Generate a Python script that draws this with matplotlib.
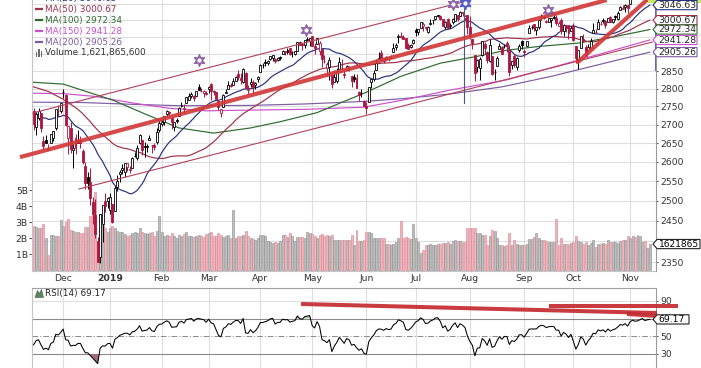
import numpy as np
import pandas as pd
import matplotlib
matplotlib.use("Agg")
import matplotlib.pyplot as plt
from matplotlib.patches import Polygon, Rectangle
from matplotlib.lines import Line2D
from matplotlib.transforms import blended_transform_factory
from matplotlib.ticker import NullLocator

plt.rcParams['font.family'] = ['DejaVu Sans']

# ---------------- data ----------------
holidays = ['2018-11-22', '2018-12-05', '2018-12-25', '2019-01-01', '2019-01-21',
            '2019-02-18', '2019-04-19', '2019-05-27', '2019-07-04', '2019-09-02']
dates = pd.bdate_range('2018-11-14', '2019-11-13')
dates = dates[~dates.isin(pd.to_datetime(holidays))]

# closes before the visible window (needed for MA20 / RSI warm-up)
warm_close = [2924.59, 2923.43, 2925.51, 2901.61, 2885.57, 2884.43, 2880.34, 2785.68, 2728.37,
              2767.13, 2750.79, 2809.92, 2809.21, 2768.78, 2767.78, 2755.88, 2740.69, 2656.10,
              2705.57, 2658.69, 2641.25, 2682.63, 2711.74, 2740.37, 2723.06, 2738.31, 2755.45,
              2813.89, 2806.83, 2781.01, 2726.22, 2722.18]

open_ = [
 2737.90, 2693.52, 2718.54, 2730.74, 2654.60, 2657.74, 2633.36, 2649.97, 2663.75, 2691.45, 2736.97, 2737.76,
 2790.50, 2782.43, 2663.51, 2691.26, 2630.86, 2664.44, 2658.23, 2658.70, 2629.68, 2590.75, 2559.90, 2547.05, 2496.77, 2465.38, 2400.56, 2363.12, 2442.50, 2498.77, 2498.94,
 2476.96, 2491.92, 2474.33, 2535.61, 2568.11, 2580.00, 2573.51, 2588.11, 2580.31, 2585.10, 2614.75, 2609.28, 2651.27, 2657.88, 2643.48, 2638.84, 2657.44, 2644.97, 2644.89, 2653.62, 2685.49,
 2702.32, 2706.49, 2728.34, 2735.05, 2717.53, 2692.36, 2712.40, 2722.61, 2750.30, 2743.50, 2760.24, 2769.28, 2779.05, 2780.67, 2780.24, 2804.35, 2792.36, 2787.50, 2788.11,
 2798.22, 2814.37, 2794.41, 2790.27, 2766.53, 2730.79, 2747.61, 2787.34, 2799.78, 2810.38, 2810.79, 2822.61, 2840.76, 2831.34, 2819.72, 2844.52, 2796.01, 2812.66, 2819.72, 2809.40, 2828.27,
 2848.63, 2868.24, 2876.09, 2873.99, 2884.16, 2888.46, 2886.58, 2881.37, 2891.92, 2900.86, 2908.32, 2912.26, 2916.04, 2904.81, 2898.78, 2909.99, 2934.00, 2928.99, 2925.81, 2940.58, 2937.14,
 2952.33, 2922.16, 2929.21, 2908.89, 2913.03, 2879.61, 2859.84, 2863.10, 2840.19, 2820.12, 2820.38, 2855.80, 2858.60, 2841.94, 2854.02, 2856.06, 2836.70, 2832.41, 2830.03, 2790.25, 2786.94, 2766.15,
 2751.53, 2762.64, 2818.09, 2828.51, 2852.87, 2885.83, 2903.27, 2882.73, 2886.24, 2886.82, 2889.75, 2906.71, 2920.55, 2949.60, 2952.71, 2951.42, 2945.78, 2926.07, 2919.66, 2932.94,
 2971.41, 2964.66, 2978.08, 2984.25, 2979.77, 2965.52, 2989.30, 2999.62, 3003.36, 3017.80, 3012.13, 3005.10, 2978.87, 3004.26, 2981.93, 2994.74, 2998.77, 3016.26, 3013.25, 3024.47, 3007.66, 3016.22,
 2980.32, 2943.90, 2898.07, 2861.18, 2858.65, 2896.21, 2930.51, 2907.07, 2880.72, 2894.15, 2846.20, 2864.74, 2913.48, 2919.01, 2922.04, 2930.94, 2911.07, 2866.70, 2893.14, 2861.28, 2910.37, 2937.09,
 2909.01, 2924.67, 2960.60, 2980.33, 2988.43, 2971.01, 2981.41, 3009.08, 3012.21, 2996.41, 2995.67, 3001.50, 3010.36, 3008.42, 2983.50, 3002.43, 2968.35, 2985.73, 2985.47, 2967.07,
 2983.69, 2924.78, 2885.38, 2918.56, 2944.23, 2920.40, 2911.10, 2918.55, 2963.07, 2965.81, 2973.61, 2989.68, 3000.77, 2996.84, 2996.48, 3010.73, 2994.01, 3014.78, 3003.32, 3032.12, 3035.39, 3039.74, 3046.90,
 3050.72, 3078.96, 3080.80, 3075.10, 3087.02, 3081.25, 3080.33, 3089.28, 3084.18]

high = [
 2746.80, 2735.38, 2746.75, 2733.16, 2669.44, 2670.73, 2647.55, 2674.35, 2682.53, 2744.00, 2753.75, 2760.88,
 2800.18, 2785.93, 2696.15, 2708.54, 2647.51, 2674.35, 2685.44, 2670.19, 2635.07, 2601.13, 2573.99, 2585.29, 2509.63, 2504.41, 2410.34, 2467.76, 2489.10, 2520.27, 2509.24,
 2519.49, 2493.14, 2538.07, 2566.16, 2579.82, 2595.32, 2597.82, 2596.27, 2589.32, 2613.08, 2625.76, 2645.06, 2675.47, 2657.88, 2653.19, 2647.20, 2672.38, 2644.97, 2650.93, 2690.44, 2708.95,
 2716.66, 2724.99, 2738.98, 2738.08, 2719.32, 2708.07, 2718.05, 2748.19, 2761.85, 2757.90, 2775.66, 2787.33, 2789.88, 2781.58, 2794.20, 2813.49, 2803.12, 2795.76, 2793.73,
 2808.02, 2816.88, 2796.44, 2790.27, 2767.25, 2744.13, 2784.00, 2798.32, 2821.24, 2815.00, 2830.73, 2835.41, 2852.42, 2843.54, 2860.31, 2846.16, 2809.79, 2829.87, 2825.56, 2819.71, 2836.03,
 2869.40, 2872.90, 2885.25, 2881.28, 2893.24, 2895.95, 2886.88, 2889.71, 2893.42, 2910.54, 2909.60, 2916.06, 2918.00, 2908.40, 2909.51, 2936.31, 2936.83, 2933.10, 2939.88, 2949.52, 2948.22,
 2954.13, 2931.68, 2947.85, 2937.32, 2913.03, 2897.96, 2875.97, 2891.31, 2840.19, 2852.54, 2858.68, 2892.15, 2885.48, 2853.86, 2868.88, 2865.47, 2836.70, 2841.36, 2840.51, 2792.03, 2799.00, 2768.98,
 2763.07, 2804.49, 2827.28, 2852.10, 2884.97, 2904.77, 2910.61, 2888.57, 2895.24, 2894.45, 2897.27, 2930.79, 2931.74, 2958.06, 2964.15, 2954.92, 2946.52, 2932.59, 2929.30, 2943.98,
 2977.93, 2973.21, 2995.84, 2994.03, 2980.76, 2981.90, 3002.98, 3002.33, 3013.92, 3017.80, 3015.02, 3005.26, 2998.28, 3006.02, 2990.71, 3005.90, 3019.59, 3016.31, 3027.98, 3025.61, 3017.19, 3017.40,
 3013.59, 2945.50, 2898.07, 2884.40, 2892.17, 2938.72, 2935.75, 2907.58, 2943.31, 2894.15, 2856.67, 2893.63, 2931.00, 2923.63, 2928.73, 2939.08, 2927.01, 2879.27, 2898.79, 2890.03, 2930.50, 2940.43,
 2914.39, 2938.84, 2985.86, 2985.03, 2989.43, 2979.39, 3000.93, 3020.74, 3017.33, 3002.19, 3006.21, 3007.83, 3021.99, 3016.37, 2999.15, 3007.98, 2989.82, 2987.28, 2987.31, 2983.85,
 2992.53, 2924.78, 2911.13, 2953.74, 2959.75, 2925.47, 2929.32, 2948.46, 2993.28, 2972.84, 3003.28, 2997.54, 3008.29, 3000.00, 3007.33, 3014.57, 3004.78, 3016.07, 3027.39, 3044.08, 3047.87, 3050.10, 3046.90,
 3066.95, 3085.20, 3083.95, 3078.34, 3097.77, 3093.09, 3088.33, 3102.61, 3098.06]

low = [
 2685.75, 2670.75, 2712.16, 2681.09, 2631.52, 2649.82, 2631.09, 2649.97, 2655.89, 2684.38, 2722.94, 2732.76,
 2773.38, 2697.18, 2621.53, 2623.14, 2583.23, 2621.30, 2650.26, 2637.27, 2593.84, 2530.54, 2528.71, 2488.96, 2441.18, 2408.55, 2351.10, 2346.58, 2397.94, 2472.89, 2482.82,
 2467.47, 2443.96, 2474.33, 2524.56, 2547.56, 2568.89, 2562.02, 2577.40, 2570.41, 2585.10, 2612.68, 2606.36, 2647.58, 2617.27, 2612.86, 2627.01, 2657.33, 2624.06, 2631.05, 2648.34, 2678.65,
 2696.88, 2698.75, 2724.03, 2724.15, 2687.26, 2681.83, 2703.79, 2722.61, 2748.63, 2731.23, 2760.24, 2767.29, 2774.06, 2764.55, 2779.11, 2794.99, 2789.47, 2775.13, 2782.51,
 2787.38, 2767.66, 2782.97, 2768.69, 2739.09, 2722.27, 2747.61, 2786.73, 2799.78, 2803.46, 2810.79, 2821.99, 2823.27, 2812.43, 2817.38, 2800.47, 2785.02, 2803.99, 2787.72, 2798.77, 2819.23,
 2848.63, 2858.75, 2865.17, 2867.14, 2882.99, 2880.78, 2873.33, 2879.13, 2881.99, 2898.37, 2896.48, 2900.71, 2895.45, 2891.90, 2896.35, 2908.53, 2926.05, 2912.84, 2917.56, 2939.35, 2924.11,
 2923.36, 2900.50, 2929.21, 2898.21, 2862.60, 2873.28, 2836.40, 2825.39, 2801.43, 2820.12, 2815.08, 2855.80, 2854.23, 2831.29, 2854.02, 2851.11, 2805.49, 2820.19, 2801.58, 2766.06, 2776.74, 2750.52,
 2728.81, 2762.64, 2800.92, 2822.45, 2852.87, 2885.51, 2878.53, 2874.68, 2881.99, 2879.62, 2887.30, 2905.44, 2911.43, 2931.50, 2946.87, 2944.05, 2916.01, 2912.99, 2918.57, 2929.05,
 2952.22, 2955.92, 2977.96, 2967.97, 2970.09, 2963.44, 2984.62, 2988.80, 3001.87, 3008.77, 3001.15, 2984.25, 2973.09, 2975.86, 2976.65, 2988.56, 2996.82, 2997.24, 3012.59, 3014.30, 3000.94, 2958.08,
 2945.23, 2914.11, 2822.12, 2847.42, 2825.71, 2894.47, 2900.15, 2873.14, 2877.05, 2839.64, 2825.51, 2864.74, 2913.48, 2899.60, 2917.91, 2904.51, 2834.97, 2856.00, 2860.59, 2853.05, 2905.67, 2913.32,
 2891.85, 2921.86, 2960.60, 2972.51, 2969.39, 2957.01, 2975.31, 3000.92, 3002.90, 2990.67, 2993.73, 2978.57, 3003.16, 2984.68, 2982.23, 2957.73, 2952.86, 2963.71, 2945.53, 2967.07,
 2938.70, 2874.93, 2855.96, 2918.56, 2935.68, 2892.66, 2907.41, 2917.12, 2963.07, 2962.94, 2973.61, 2985.20, 2991.79, 2976.31, 2995.35, 2995.04, 2991.21, 3000.42, 3001.94, 3032.12, 3034.81, 3025.96, 3023.19,
 3050.72, 3074.87, 3072.15, 3065.89, 3080.23, 3073.58, 3075.82, 3084.73, 3078.80]

close = [
 2701.58, 2730.20, 2736.27, 2690.73, 2641.89, 2649.93, 2632.56, 2673.45, 2682.17, 2743.79, 2737.80, 2760.17,
 2790.37, 2700.06, 2695.95, 2633.08, 2637.72, 2636.78, 2651.07, 2650.54, 2599.95, 2545.94, 2546.16, 2506.96, 2467.42, 2416.62, 2351.10, 2467.70, 2488.83, 2485.74, 2506.85,
 2510.03, 2447.89, 2531.94, 2549.69, 2574.41, 2584.96, 2596.64, 2596.26, 2582.61, 2610.30, 2616.10, 2635.96, 2670.71, 2632.90, 2638.70, 2642.33, 2664.76, 2643.85, 2640.00, 2681.05, 2704.10,
 2706.53, 2724.87, 2737.70, 2731.61, 2706.05, 2707.88, 2709.80, 2744.73, 2753.03, 2745.73, 2775.60, 2779.76, 2784.70, 2774.88, 2792.67, 2796.11, 2793.90, 2792.38, 2784.49,
 2803.69, 2792.81, 2789.65, 2771.45, 2748.93, 2743.07, 2783.30, 2791.52, 2810.92, 2808.48, 2822.48, 2832.94, 2832.57, 2824.23, 2854.88, 2800.71, 2798.36, 2818.46, 2805.37, 2815.44, 2834.40,
 2867.19, 2867.24, 2873.40, 2879.39, 2892.74, 2895.77, 2878.20, 2888.21, 2888.32, 2907.41, 2905.58, 2907.06, 2900.45, 2905.03, 2907.97, 2933.68, 2927.25, 2926.17, 2939.88, 2943.03, 2945.83,
 2923.73, 2917.52, 2945.64, 2932.47, 2884.05, 2879.42, 2870.72, 2881.40, 2811.87, 2834.41, 2850.96, 2876.32, 2859.53, 2840.23, 2864.36, 2856.27, 2822.24, 2826.06, 2802.39, 2783.02, 2788.86, 2752.06,
 2744.45, 2803.27, 2826.15, 2843.49, 2873.34, 2886.73, 2885.72, 2879.84, 2891.64, 2886.98, 2889.67, 2917.75, 2926.46, 2954.18, 2950.46, 2945.35, 2917.38, 2913.78, 2924.92, 2941.76,
 2964.33, 2973.01, 2995.82, 2990.41, 2975.95, 2979.63, 2993.07, 2999.91, 3013.77, 3014.30, 3004.04, 2984.42, 2995.11, 2976.61, 2985.03, 3005.47, 3019.56, 3003.67, 3025.86, 3020.97, 3013.18, 2980.38,
 2953.56, 2932.05, 2844.74, 2881.77, 2883.98, 2938.09, 2918.65, 2882.70, 2926.32, 2840.60, 2847.60, 2888.68, 2923.65, 2900.51, 2924.43, 2922.95, 2847.11, 2878.38, 2869.16, 2887.94, 2924.58, 2926.46,
 2906.27, 2937.78, 2976.00, 2978.71, 2978.43, 2979.39, 3000.93, 3009.57, 3007.39, 2997.96, 3005.70, 3006.73, 3006.79, 2992.07, 2991.78, 2966.60, 2984.87, 2977.62, 2961.79, 2976.74,
 2940.25, 2887.61, 2910.63, 2952.01, 2938.79, 2893.06, 2919.40, 2938.13, 2970.27, 2966.15, 2995.68, 2989.69, 2997.95, 2986.20, 3006.72, 2995.99, 3004.52, 3010.29, 3022.55, 3039.42, 3036.89, 3046.77, 3037.56,
 3066.91, 3078.27, 3074.62, 3076.78, 3085.18, 3093.08, 3087.01, 3091.84, 3094.04]

volume_b = [
 2.75, 2.7, 2.65, 2.6, 2.85, 2.0, 0.95, 2.2, 2.2, 2.1, 2.15, 3.1,
 2.75, 3.0, 3.2, 2.5, 2.45, 2.4, 2.35, 2.3, 2.3, 2.7, 2.7, 3.4, 3.6, 4.9, 1.7, 2.7, 2.8, 2.6, 2.4,
 2.6, 2.75, 2.65, 2.45, 2.4, 2.35, 2.25, 2.1, 2.2, 2.3, 2.35, 2.3, 2.6, 2.4, 2.3, 2.25, 2.3, 2.35, 2.1, 2.45, 3.4,
 2.4, 2.1, 2.2, 2.1, 2.3, 2.15, 2.0, 2.2, 2.1, 2.25, 2.4, 2.1, 2.15, 2.05, 2.1, 2.2, 2.1, 2.05, 2.25,
 2.3, 2.35, 2.1, 2.15, 2.3, 2.2, 2.05, 2.1, 2.2, 2.0, 3.75, 2.0, 2.1, 2.15, 2.2, 2.45, 2.15, 2.0, 1.95, 1.9, 2.0,
 2.2, 2.2, 2.15, 1.8, 1.75, 1.7, 1.75, 1.7, 1.8, 2.2, 2.2, 2.05, 2.3, 2.1, 1.8, 2.05, 2.05, 2.05, 2.0, 2.35, 2.3,
 2.25, 2.1, 2.0, 2.2, 2.25, 2.15, 2.2, 2.1, 2.2, 1.9, 1.9, 1.9, 1.9, 1.85, 1.9, 1.9, 2.2, 1.55, 2.5, 1.8, 1.8, 1.85,
 2.35, 2.35, 2.3, 2.0, 2.0, 2.0, 2.0, 2.0, 1.65, 1.6, 1.55, 1.6, 1.75, 2.0, 3.05, 2.0, 2.05, 2.0, 1.95, 2.9,
 2.0, 1.75, 1.05, 1.25, 1.55, 1.55, 1.6, 1.55, 1.55, 1.6, 1.65, 1.7, 1.7, 1.75, 1.65, 1.8, 1.85, 1.8, 1.8, 1.75, 1.75, 2.65,
 2.65, 2.6, 2.6, 2.3, 2.3, 2.2, 2.2, 1.55, 2.15, 2.5, 2.45, 2.0, 1.55, 1.55, 1.5, 1.55, 2.3, 1.55, 1.9, 1.6, 1.55, 1.55,
 1.55, 1.65, 1.95, 1.95, 2.05, 2.3, 2.0, 1.85, 1.85, 1.8, 1.75, 1.75, 1.75, 3.2, 1.55, 2.0, 1.65, 1.65, 1.65, 1.7,
 1.75, 2.1, 1.8, 1.75, 1.6, 1.75, 1.55, 1.7, 1.85, 1.45, 1.65, 1.65, 1.7, 1.65, 1.85, 1.75, 1.75, 1.75, 1.7, 1.8, 1.85, 1.85, 2.15,
 2.0, 2.1, 2.05, 2.2, 2.1, 1.75, 1.8, 1.35, 1.6218656]

# moving averages (trading-day index, value)
ma50_early_idx = [0, 6, 12]
ma50_early_val = [2805, 2792, 2770]
ma100_idx = [0, 12, 32, 46, 59, 73, 88, 100, 115, 135, 149, 165, 180, 192, 205, 221, 235, 250]
ma100_val = [2818, 2813, 2768, 2727, 2691, 2677, 2691, 2708, 2733, 2790, 2835, 2873, 2893, 2911, 2922, 2932, 2950, 2972.34]
ma150_idx = [0, 12, 25, 40, 55, 70, 88, 110, 134, 150, 169, 192, 210, 230, 250]
ma150_val = [2787, 2786, 2778, 2760, 2745, 2738, 2740, 2742, 2748, 2768, 2796, 2825, 2860, 2900, 2941.28]
ma200_idx = [0, 20, 40, 60, 88, 110, 134, 150, 169, 190, 210, 230, 250]
ma200_val = [2762, 2761, 2756, 2752, 2753, 2757, 2764, 2772, 2785, 2805, 2835, 2870, 2905.26]

ma_last = {'MA(20)': 3046.63, 'MA(50)': 3000.67, 'MA(100)': 2972.34, 'MA(150)': 2941.28, 'MA(200)': 2905.26}
rsi_last = 69.17
price_ticks = [2350, 2400, 2450, 2500, 2550, 2600, 2650, 2700, 2750, 2800, 2850, 2900, 2950, 3000, 3050]
price_labeled = [2350, 2450, 2500, 2550, 2600, 2650, 2700, 2750, 2800, 2850]
vol_ticks = [1, 2, 3, 4, 5]
rsi_ticks = [30, 50, 70, 90]
rsi_labeled = [30, 50, 90]

# hand-drawn annotations (trading-day index, price / rsi)
trend_thick = [(-5.52, 2612.8), (232.5, 3062.4)]
trend_steep = [(220.3, 2873.0), (252.5, 3088.0)]
chan_upper = [(-0.25, 2732.0), (177.0, 3062.0)]
chan_lower = [(18.4, 2530.0), (251.0, 2935.0)]
stars = [(67.2, 2882), (110.5, 2972), (170.0, 3050), (208.7, 3032)]
star_blue = (175.0, 3053)
rsi_lines = [[(108.5, 86.6), (252.9, 76.4)], [(209.1, 84.3), (261.4, 84.3)], [(240.7, 75.3), (252.9, 73.0)]]

# ---------------- derived ----------------
n = len(close)
idx = np.arange(n)
o = np.array(open_); c = np.array(close); hi = np.array(high); lo = np.array(low)
vol = np.array(volume_b)
allc = pd.Series(np.r_[warm_close, close])
nw = len(warm_close)
ma20 = allc.rolling(20).mean().values[nw:]
ma50_all = allc.rolling(50).mean().values[nw:]
d = allc.diff()
ag = d.clip(lower=0).ewm(alpha=1/14, adjust=False).mean()
al = (-d).clip(lower=0).ewm(alpha=1/14, adjust=False).mean()
rsi = (100 - 100 / (1 + ag / al)).values[nw:]

months = dates.month.values
mstart = [i for i in range(1, n) if months[i] != months[i - 1]]
mlabels = [str(dates[i].year) if dates[i].month == 1 else dates[i].strftime('%b') for i in mstart]

# ---------------- figure ----------------
W, H = 701, 368
fig = plt.figure(figsize=(W / 100, H / 100), dpi=100)
fig.patch.set_facecolor('white')

L, R = 32, 656
main_rect = [L / W, (H - 271) / H, (R - L) / W, 271 / H]
rsi_rect = [L / W, 0, (R - L) / W, 80 / H]

GRID = '#dedede'
RED = '#ad1640'
NAVY = '#27317c'
MAROON = '#9e3048'
GREEN = '#2d6a2d'
MAGENTA = '#cc50cc'
PURPLE = '#7e5ba2'
TXT = '#333333'
FS = 6.7

ax_vol = fig.add_axes(main_rect, zorder=1)
ax = fig.add_axes(main_rect, zorder=2, sharex=ax_vol)
ax.patch.set_visible(False)
ax_r = fig.add_axes(rsi_rect, zorder=2, sharex=ax_vol)

xlo, xhi = -0.65, 252.5
ax_vol.set_xlim(xlo, xhi)

# price axis (log)
ax.set_yscale('log')
ax.set_ylim(2328.8, 3062.4)
ax.yaxis.set_minor_locator(NullLocator())
ax.set_yticks(price_ticks)
ax.set_yticklabels([str(t) if t in price_labeled else '' for t in price_ticks])
ax.yaxis.tick_right()
ax.tick_params(axis='y', labelsize=FS, colors=TXT, length=1.5, pad=1.5, width=0.6)
ax.tick_params(axis='y', which='minor', length=0)

# volume axis
ax_vol.set_ylim(-0.0625, 16.875)
ax_vol.set_autoscale_on(False)
ax_vol.set_yticks(vol_ticks)
ax_vol.set_yticklabels([f'{v}B' for v in vol_ticks])
ax_vol.tick_params(axis='y', labelsize=FS, colors=TXT, length=2, pad=1, width=0.6)
ax_vol.tick_params(axis='x', labelbottom=False, length=0)

# grid behind everything (drawn in bottom axes)
bt = blended_transform_factory(ax_vol.transAxes, ax.transData)
for lv in price_ticks:
    ax_vol.add_line(Line2D([0, 1], [lv, lv], transform=bt, color=GRID, lw=0.8, zorder=0))
for m in mstart:
    ax_vol.axvline(m, color=GRID, lw=0.8, zorder=0)

# volume bars
prev = np.r_[warm_close[-1], c[:-1]]
down = c < prev
vfill = np.where(down, '#f0b4bd', '#bdbdbd')
vedge = np.where(down, '#d9818f', '#8d8d8d')
ax_vol.bar(idx, vol, width=0.8, color=vfill, edgecolor=vedge, linewidth=0.4, zorder=2)

# moving averages
ax.plot(ma200_idx, ma200_val, color=PURPLE, lw=0.85, zorder=3)
ax.plot(ma150_idx, ma150_val, color=MAGENTA, lw=0.85, zorder=3)
ax.plot(ma100_idx, ma100_val, color=GREEN, lw=0.85, zorder=3)
valid = ~np.isnan(ma50_all)
ax.plot(np.r_[ma50_early_idx, idx[valid]], np.r_[ma50_early_val, ma50_all[valid]], color=MAROON, lw=0.85, zorder=3)
ax.plot(idx, ma20, color=NAVY, lw=0.85, zorder=3)

# candles
ccol = np.where(down, RED, 'black')
ax.vlines(idx, lo, hi, colors=ccol, lw=0.7, zorder=4)
hollow = c > o
bot = np.minimum(o, c)
hgt = np.maximum(np.abs(c - o), 0.3)
ax.bar(idx[hollow], hgt[hollow], bottom=bot[hollow], width=0.8, facecolor='white',
       edgecolor=ccol[hollow], linewidth=0.6, zorder=5)
ax.bar(idx[~hollow], hgt[~hollow], bottom=bot[~hollow], width=0.8, facecolor=ccol[~hollow],
       edgecolor=ccol[~hollow], linewidth=0.6, zorder=5)

# annotations on price chart
for seg in (chan_upper, chan_lower):
    ax.plot([p[0] for p in seg], [p[1] for p in seg], color='#b3405a', lw=0.8, zorder=6)
ax.plot([p[0] for p in trend_thick], [p[1] for p in trend_thick], color='#d23a3a', lw=3.0,
        alpha=0.92, zorder=7, clip_on=False, solid_capstyle='butt')
ax.plot([p[0] for p in trend_steep], [p[1] for p in trend_steep], color='#d23a3a', lw=3.0,
        alpha=0.92, zorder=7, solid_capstyle='butt')
ax.plot([174.6, 174.6], [2760, 3070], color='#4d5578', lw=0.8, zorder=6)
ax.plot([252.2, 252.2], [2853, 3070], color='#7068a8', lw=0.8, zorder=6, clip_on=False)
ax.plot([s[0] for s in stars], [s[1] for s in stars], linestyle='none', marker=(6, 1, 0),
        markersize=9, color='#9466ac', markeredgecolor='#7d4f98', markeredgewidth=0.5, zorder=8, clip_on=False)
ax.plot([star_blue[0]], [star_blue[1]], marker=(6, 1, 0), markersize=9, color='#5a5ec4', zorder=8)
ax.plot([s[0] for s in stars] + [star_blue[0]], [s[1] for s in stars] + [star_blue[1]],
        linestyle='none', marker='o', markersize=2, color='white', zorder=9)

# x labels
ax.set_xticks(mstart)
ax.set_xticklabels(mlabels)
ax.tick_params(axis='x', labelsize=FS, colors=TXT, length=0, pad=2.2)
for t in ax.get_xticklabels():
    if t.get_text().isdigit():
        t.set_fontweight('bold')

for a in (ax, ax_vol):
    a.spines['top'].set_visible(False)
ax_vol.spines['right'].set_visible(False)
ax_vol.spines['left'].set_color('#c4c4c4')
ax_vol.spines['bottom'].set_color('#c4c4c4')
ax.spines['left'].set_visible(False)
ax.spines['bottom'].set_visible(False)
ax.spines['right'].set_color('#9a9a9a')
ax.spines['right'].set_linestyle((0, (1, 1)))

# RSI panel
ax_r.set_ylim(14.15, 104.7)
for m in mstart:
    ax_r.axvline(m, color=GRID, lw=0.8, zorder=0)
ax_r.axhline(90, color=GRID, lw=0.8, zorder=0)
ax_r.axhline(70, color='#8a8a8a', lw=0.8, zorder=1)
ax_r.axhline(30, color='#8a8a8a', lw=0.8, zorder=1)
ax_r.axhline(50, color='#8a8a8a', lw=0.7, ls=(0, (6, 2, 1, 2)), zorder=1)
ax_r.fill_between(idx, rsi, 30, where=rsi < 30, interpolate=True, color='#a06b7c', zorder=2, lw=0)
ax_r.fill_between(idx, rsi, 70, where=rsi > 70, interpolate=True, color='#b9c9b9', zorder=2, lw=0)
ax_r.plot(idx, rsi, color='black', lw=0.75, zorder=3)
for seg in rsi_lines:
    ax_r.plot([p[0] for p in seg], [p[1] for p in seg], color='#c42a30', lw=2.9, alpha=0.92,
              zorder=5, clip_on=False, solid_capstyle='butt')
ax_r.set_yticks(rsi_ticks)
ax_r.set_yticklabels([str(t) if t in rsi_labeled else '' for t in rsi_ticks])
ax_r.yaxis.tick_right()
ax_r.tick_params(axis='y', labelsize=FS, colors=TXT, length=1.5, pad=1.5, width=0.6)
ax_r.tick_params(axis='x', labelbottom=False, length=0)
ax_r.spines['top'].set_color('#a0a0a0')
ax_r.spines['left'].set_color('#c4c4c4')
ax_r.spines['right'].set_color('#9a9a9a')
ax_r.spines['right'].set_linestyle((0, (1, 1)))
ax_r.spines['bottom'].set_visible(False)
ax_vol.set_xlim(xlo, xhi)

# ---------------- overlay (pixel space) ----------------
ov = fig.add_axes([0, 0, 1, 1], zorder=10)
ov.set_xlim(0, W)
ov.set_ylim(H, 0)
ov.axis('off')
ov.patch.set_alpha(0)

def px(axis, x, y):
    return ov.transData.inverted().transform(axis.transData.transform((x, y)))

def tag(ypx, text, ec, tc='black', w=40, fc='white', fs=FS):
    x0 = R + 1
    hh = 4.6
    pts = [(x0 - 4, ypx), (x0, ypx - hh), (x0 + w, ypx - hh), (x0 + w, ypx + hh), (x0, ypx + hh)]
    ov.add_patch(Polygon(pts, closed=True, fc=fc, ec=ec, lw=0.8, zorder=20))
    ov.text(x0 + 1.5, ypx + 0.3, text, fontsize=fs, va='center', ha='left', color=tc, zorder=21)

ma_cols = {'MA(20)': NAVY, 'MA(50)': MAROON, 'MA(100)': GREEN, 'MA(150)': MAGENTA, 'MA(200)': PURPLE}
for k, v in ma_last.items():
    y = px(ax, 0, v)[1]
    tag(y, f'{v:.2f}', ma_cols[k], tc='#222222')

vt = vol[-1]
tag(px(ax_vol, 0, vt)[1], f'{int(vt * 1e6)}', '#222222', w=43, fs=6.5)
tag(px(ax_r, 0, rsi_last)[1], f'{rsi_last:.2f}', '#222222', w=32)
ov.add_patch(Rectangle((648, 0), 53, 3, fc='#c5e85c', ec='none', zorder=19))

# legend
rows = [-1.8, 9.2, 20.2, 31.2, 42.2]
for (k, v), yy in zip(ma_last.items(), rows):
    col = ma_cols[k]
    ov.plot([35, 43], [yy, yy], color=col, lw=1.6, solid_capstyle='butt')
    ov.text(45, yy + 0.3, f'{k} {v:.2f}', fontsize=6.4, color=col, va='center', ha='left')
for xb, hb in zip([35.5, 38, 40.5], [5, 8, 6]):
    ov.add_patch(Rectangle((xb, 57 - hb), 1.8, hb, fc='#6a6a6a', ec='none'))
ov.text(45, 52.6, f'Volume {int(round(vt * 1e9)):,}', fontsize=6.4, color='#333333', va='center', ha='left')

# RSI legend
ov.add_patch(Polygon([(35, 297.5), (37.5, 290.5), (39.5, 293.5), (41.5, 289.5), (43.5, 297.5)],
                     closed=True, fc='#5f825f', ec='#3f5f3f', lw=0.4))
ov.text(45, 293.6, f'RSI(14) {rsi_last:.2f}', fontsize=6.4, color='#222222', va='center', ha='left')

fig.savefig('out.png', dpi=100, facecolor='white')
